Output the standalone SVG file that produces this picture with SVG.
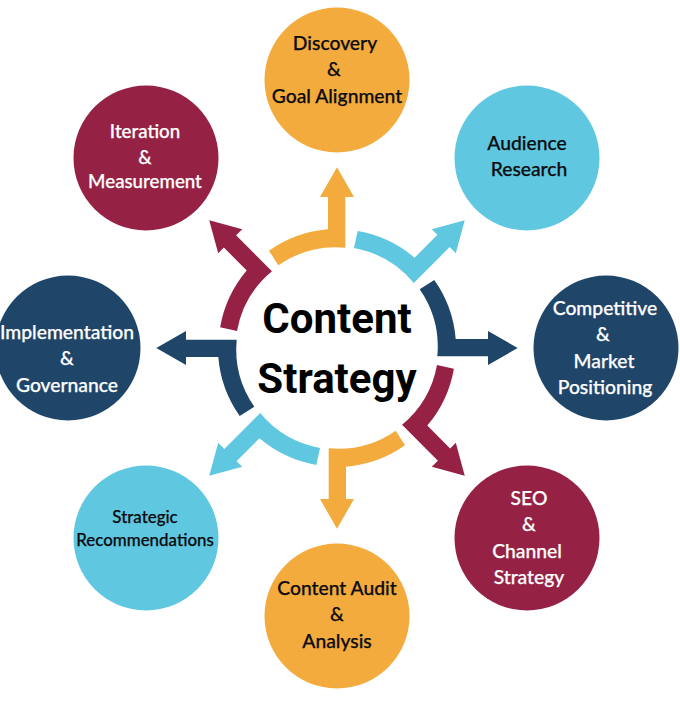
<svg xmlns="http://www.w3.org/2000/svg" width="680" height="704" viewBox="0 0 680 704">
<style>
.o{fill:#F2AB3C}.t{fill:#5FC8E0}.n{fill:#1F4568}.c{fill:#952244}
text{font-family:Lato,"Liberation Sans",sans-serif;font-size:19.3px;font-weight:500;text-anchor:middle;fill:#0c0c10;stroke:#0c0c10;stroke-width:.25px}
.w{fill:#fff;stroke:#fff}
.s{font-size:16.9px}
.i{font-size:18.7px}
.m{font-family:Roboto,"Liberation Sans",sans-serif;font-size:42px;font-weight:700;fill:#000;stroke:none}
</style>
<defs>
<path id="a" d="M0 -180.7L17 -151H8.3V-100.3A101 101 0 0 0 -58.7 -82.7L-68 -97.3A119 119 0 0 1 -9 -118.7V-151H-17Z"/>
</defs>
<rect width="680" height="704" fill="#fff"/>
<g id="connectors">
<use href="#a" class="o" transform="translate(337 348)"/>
<use href="#a" class="t" transform="translate(337 348) rotate(45)"/>
<use href="#a" class="n" transform="translate(337 348) rotate(90)"/>
<use href="#a" class="c" transform="translate(337 348) rotate(135)"/>
<use href="#a" class="o" transform="translate(337 348) rotate(180)"/>
<use href="#a" class="t" transform="translate(337 348) rotate(225)"/>
<use href="#a" class="n" transform="translate(337 348) rotate(270)"/>
<use href="#a" class="c" transform="translate(337 348) rotate(315)"/>
</g>
<g id="center"><text class="m" x="337" y="333">Content</text><text class="m" x="337" y="393">Strategy</text></g>
<g id="discovery"><circle class="o" cx="337" cy="80" r="72.5"/><text x="335" y="50">Discovery</text><text x="334" y="76">&amp;</text><text x="337" y="103">Goal Alignment</text></g>
<g id="audience"><circle class="t" cx="527" cy="158" r="72.5"/><text x="527" y="150">Audience</text><text x="529" y="176">Research</text></g>
<g id="competitive"><circle class="n" cx="606" cy="348" r="72.5"/><text class="w" x="605" y="315">Competitive</text><text class="w" x="603" y="341">&amp;</text><text class="w" x="604" y="368">Market</text><text class="w" x="605" y="394">Positioning</text></g>
<g id="seo"><circle class="c" cx="527" cy="538" r="72.5"/><text class="w" x="529" y="505">SEO</text><text class="w" x="529" y="531">&amp;</text><text class="w" x="527" y="558">Channel</text><text class="w" x="529" y="584">Strategy</text></g>
<g id="audit"><circle class="o" cx="337" cy="616" r="72.5"/><text x="337" y="595">Content Audit</text><text x="337" y="621">&amp;</text><text x="337" y="648">Analysis</text></g>
<g id="recommendations"><circle class="t" cx="146" cy="538" r="72.5"/><text class="s" x="145" y="523">Strategic</text><text class="s" x="145" y="546">Recommendations</text></g>
<g id="implementation"><circle class="n" cx="68" cy="348" r="72.5"/><text class="w" x="67" y="339">Implementation</text><text class="w" x="67" y="365">&amp;</text><text class="w" x="67" y="392">Governance</text></g>
<g id="iteration"><circle class="c" cx="146" cy="158" r="72.5"/><text class="w i" x="145" y="138">Iteration</text><text class="w i" x="145" y="164">&amp;</text><text class="w i" x="145" y="188">Measurement</text></g>
</svg>
